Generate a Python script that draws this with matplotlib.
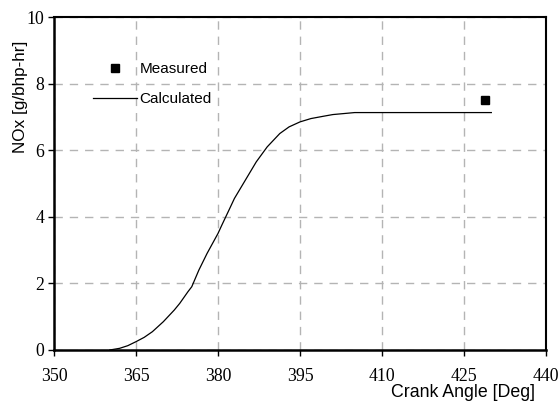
import matplotlib
matplotlib.use("Agg")
import matplotlib.pyplot as plt

# calculated NOx vs crank angle
crank = [360.2, 362, 363.5, 365, 366.5, 368, 370, 372, 373, 374.5, 375.2, 376.5,
         378, 380, 380.7, 382, 383, 385, 387, 389, 391.3, 393, 395, 397, 399.3,
         401, 403, 405, 410, 420, 430]
nox_calc = [0, 0.05, 0.13, 0.25, 0.38, 0.55, 0.85, 1.2, 1.4, 1.75, 1.9, 2.4,
            2.9, 3.5, 3.75, 4.2, 4.55, 5.1, 5.65, 6.1, 6.5, 6.7, 6.85, 6.95, 7.02,
            7.07, 7.1, 7.13, 7.13, 7.13, 7.13]
meas_x = [428.8]
meas_y = [7.5]

xticks = [350, 365, 380, 395, 410, 425, 440]
yticks = [0, 2, 4, 6, 8, 10]

SANS = "Liberation Sans"
SERIF = "Liberation Serif"

fig = plt.figure(figsize=(5.6, 4.12), dpi=100)
ax = fig.add_axes([54 / 560, 62 / 412, 492 / 560, 333 / 412])

ax.plot(meas_x, meas_y, "s", color="black", markersize=5.5, label="Measured", zorder=3)
ax.plot(crank, nox_calc, "-", color="black", lw=0.9, label="Calculated", zorder=3)

ax.set_xlim(350, 440)
ax.set_ylim(0, 10)
ax.set_xticks(xticks)
ax.set_yticks(yticks)
for lab in ax.get_xticklabels() + ax.get_yticklabels():
    lab.set_family(SERIF)
    lab.set_fontsize(12.8)
ax.tick_params(axis="x", direction="out", length=4, width=1, pad=9)
ax.tick_params(axis="y", direction="out", length=4, width=1, pad=3)

ax.grid(True, color="#b4b4b4", linestyle=(0, (6, 5)), lw=1)
for s in ax.spines.values():
    s.set_linewidth(1.5)
    s.set_color("black")
ax.spines["left"].set_linewidth(1.8)
ax.spines["bottom"].set_linewidth(1.8)

ax.set_xlabel("Crank Angle [Deg]", family=SANS, fontsize=12.8, ha="right")
ax.xaxis.set_label_coords((535 - 54) / 492, -0.102)
ax.set_ylabel("NOx [g/bhp-hr]", family=SANS, fontsize=12.3)
ax.yaxis.set_label_coords(-0.053, 0.76)

ax.legend(frameon=False, loc="upper left", bbox_to_anchor=(0.051, 0.905),
          prop={"family": SANS, "size": 11}, handlelength=2.9, handletextpad=0.15,
          labelspacing=1.03)

fig.savefig("out.png", dpi=100)
